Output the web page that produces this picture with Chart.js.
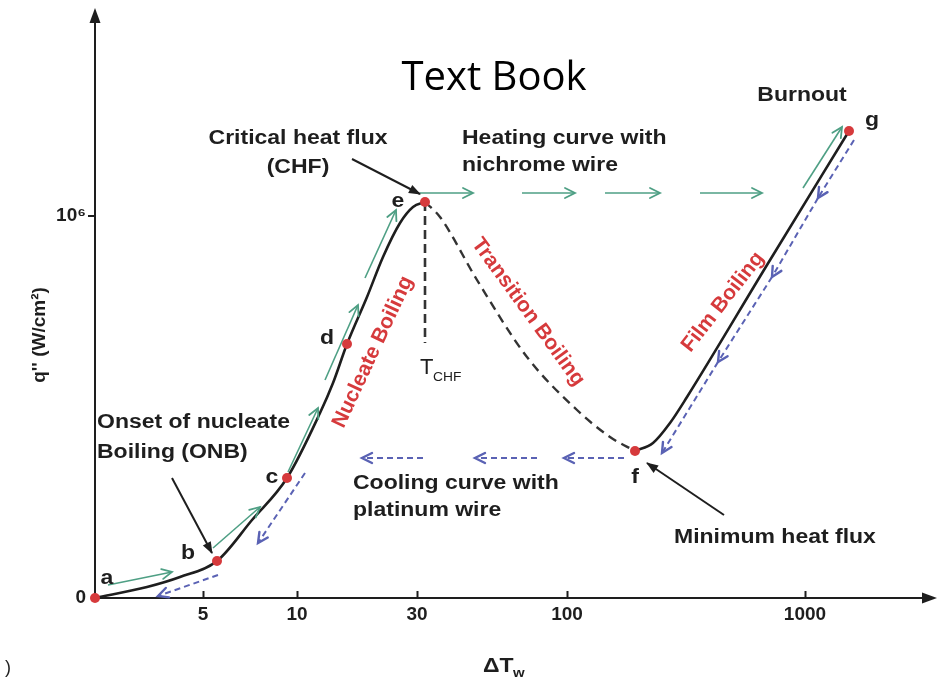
<!DOCTYPE html>
<html>
<head>
<meta charset="utf-8">
<script src="https://cdn.jsdelivr.net/npm/chart.js@4.4.1/dist/chart.umd.min.js"></script>
<style>
  html, body { margin: 0; padding: 0; background: #fff; }
  canvas { display: block; }
</style>
</head>
<body>
<canvas id="grafico" width="944" height="678"></canvas>
<script>
// eixos (posicoes esquematicas, nao e uma escala log real)
const xTickPos = [108, 202, 322, 472, 710];
const xTickLabels = ['5', '10', '30', '100', '1000'];
const yTickPos = [0, 382];
const yTickLabels = ['0', '10\u2076'];

// curva de ebulicao
const nucleateX = [0, 52, 85, 122, 157, 192, 225, 238, 252, 272, 288, 305, 318, 330];
const nucleateY = [0, 11, 21, 37, 78, 120, 185, 215, 254, 301, 341, 375, 391, 396];
const transitionX = [330, 345, 382, 432, 482, 515, 540];
const transitionY = [396, 381, 318, 241, 188, 161, 147];
const filmX = [540, 558, 575, 592, 672, 754];
const filmY = [147, 155, 175, 201, 333, 467];
const chfLineX = [330, 330];
const chfLineY = [396, 255];

// pontos a..g
const stateLabels = ['a', 'b', 'c', 'd', 'e', 'f', 'g'];
const stateX = [0, 122, 192, 252, 330, 540, 754];
const stateY = [0, 37, 120, 254, 396, 147, 467];

// setas [x1, y1, x2, y2]
const heatingArrows = [
    [13, 13, 77, 26], [118, 50, 165, 91], [193, 126, 223, 190], [230, 218, 263, 293], [270, 320, 301, 388],
    [325, 405, 378, 405], [427, 405, 480, 405], [510, 405, 565, 405], [605, 405, 667, 405],
    [708, 410, 747, 471]
];
const coolingArrows = [
    [759, 458, 723, 400], [723, 400, 677, 321], [677, 321, 623, 236], [623, 236, 567, 145],
    [529, 140, 469, 140], [442, 140, 380, 140], [328, 140, 267, 140],
    [210, 125, 163, 55], [123, 23, 63, 2]
];
const pointerArrows = [
    [257, 439, 325, 404], [77, 120, 117, 45], [629, 83, 552, 135]
];

const INK = '#1e1e1e';
const RED = '#d63a3c';
const GREEN = '#4e9f84';
const BLUE = '#5a62b4';
const SX = 1.15;
const FONTE = '"Liberation Sans", Arial, sans-serif';

function juntar(xs, ys){
    return xs.map((v, i) => ({x: v, y: ys[i]}));
}

function setas(lista, cor, largura, tracejado, ponta){
    return lista.map(s => ({
        data: [{x: s[0], y: s[1]}, {x: s[2], y: s[3]}],
        borderColor: cor,
        borderWidth: largura,
        borderDash: tracejado,
        pointRadius: 0,
        tension: 0,
        clip: false,
        head: ponta
    }));
}

function desenharPonta(ctx, p1, p2, tipo, cor){
    const ang = Math.atan2(p2.y - p1.y, p2.x - p1.x);
    ctx.save();
    ctx.translate(p2.x, p2.y);
    ctx.rotate(ang);
    ctx.setLineDash([]);
    if(tipo == 'cheia'){
        ctx.fillStyle = cor;
        ctx.beginPath();
        ctx.moveTo(1, 0);
        ctx.lineTo(-11, -4.5);
        ctx.lineTo(-11, 4.5);
        ctx.closePath();
        ctx.fill();
    }
    else{
        ctx.strokeStyle = cor;
        ctx.lineWidth = tipo == 'azul' ? 2.4 : 1.8;
        ctx.lineCap = 'round';
        ctx.beginPath();
        ctx.moveTo(-10, -5);
        ctx.lineTo(0, 0);
        ctx.lineTo(-10, 5);
        ctx.stroke();
    }
    ctx.restore();
}

function texto(ctx, str, x, y, opc){
    opc = opc || {};
    ctx.save();
    ctx.translate(x, y);
    if(opc.rot) ctx.rotate(opc.rot * Math.PI / 180);
    ctx.scale(opc.sx != undefined ? opc.sx : SX, 1);
    ctx.font = opc.font || ('bold 20px ' + FONTE);
    ctx.fillStyle = opc.cor || INK;
    ctx.textAlign = opc.align || 'center';
    ctx.textBaseline = opc.base || 'middle';
    ctx.fillText(str, 0, 0);
    ctx.restore();
}

const anotacoes = {
    id: 'anotacoes',
    afterDatasetsDraw(chart){
        const ctx = chart.ctx;
        const ca = chart.chartArea;
        const xs = chart.scales.x;

        // pontas das setas
        chart.data.datasets.forEach((ds, i) => {
            if(!ds.head) return;
            const pts = chart.getDatasetMeta(i).data;
            desenharPonta(ctx, pts[pts.length - 2], pts[pts.length - 1], ds.head, ds.borderColor);
        });

        // marcas do eixo x (para dentro)
        ctx.save();
        ctx.strokeStyle = INK;
        ctx.lineWidth = 2;
        xTickPos.forEach(v => {
            const px = Math.round(xs.getPixelForValue(v)) + 0.5;
            ctx.beginPath();
            ctx.moveTo(px, ca.bottom);
            ctx.lineTo(px, ca.bottom - 7);
            ctx.stroke();
        });

        // setas dos eixos
        ctx.fillStyle = INK;
        ctx.beginPath();
        ctx.moveTo(ca.left, ca.top - 12);
        ctx.lineTo(ca.left - 5.5, ca.top + 3);
        ctx.lineTo(ca.left + 5.5, ca.top + 3);
        ctx.closePath();
        ctx.fill();
        ctx.beginPath();
        ctx.moveTo(ca.right + 12, ca.bottom);
        ctx.lineTo(ca.right - 3, ca.bottom - 5.5);
        ctx.lineTo(ca.right - 3, ca.bottom + 5.5);
        ctx.closePath();
        ctx.fill();
        ctx.restore();

        // letras dos pontos
        const desloc = [[107, 578], [188, 553], [272, 477], [327, 338], [398, 201], [635, 477], [872, 120]];
        stateLabels.forEach((l, i) => texto(ctx, l, desloc[i][0], desloc[i][1]));

        texto(ctx, 'Text Book', 494, 90, {font: '40px "Open Sans", sans-serif', sx: 1, base: 'alphabetic', cor: '#000'});
        texto(ctx, 'Burnout', 802, 95);
        texto(ctx, 'Critical heat flux', 298, 138);
        texto(ctx, '(CHF)', 298, 167);
        texto(ctx, 'Heating curve with', 462, 138, {align: 'left'});
        texto(ctx, 'nichrome wire', 462, 165, {align: 'left'});
        texto(ctx, 'Onset of nucleate', 97, 422, {align: 'left'});
        texto(ctx, 'Boiling (ONB)', 97, 452, {align: 'left'});
        texto(ctx, 'Cooling curve with', 353, 483, {align: 'left'});
        texto(ctx, 'platinum wire', 353, 510, {align: 'left'});
        texto(ctx, 'Minimum heat flux', 674, 537, {align: 'left'});

        texto(ctx, 'T', 420, 374, {align: 'left', base: 'alphabetic', font: '22px ' + FONTE, sx: 1});
        texto(ctx, 'CHF', 433, 381, {align: 'left', base: 'alphabetic', font: '12px ' + FONTE});

        texto(ctx, 'Nucleate Boiling', 373, 352, {rot: -65, sx: 1, cor: RED, font: 'bold 21px ' + FONTE});
        texto(ctx, 'Transition Boiling', 528, 312, {rot: 54, sx: 1, cor: RED, font: 'bold 21px ' + FONTE});
        texto(ctx, 'Film Boiling', 723, 302, {rot: -52, sx: 1, cor: RED, font: 'bold 21px ' + FONTE});

        texto(ctx, '\u0394T', 483, 672, {align: 'left', base: 'alphabetic'});
        texto(ctx, 'w', 513, 677, {align: 'left', base: 'alphabetic', font: 'bold 13px ' + FONTE});
        texto(ctx, "q'' (W/cm\u00b2)", 40, 335, {rot: -90, sx: 1, font: 'bold 19px ' + FONTE});
        texto(ctx, ')', 8, 668, {sx: 1, font: '18px ' + FONTE});
    }
};

const datasets = [
    {
        data: juntar(stateX, stateY),
        showLine: false,
        pointRadius: 5,
        pointBackgroundColor: RED,
        pointBorderWidth: 0,
        clip: false
    },
    {
        data: juntar(nucleateX, nucleateY),
        borderColor: INK,
        borderWidth: 2.6,
        pointRadius: 0,
        cubicInterpolationMode: 'monotone',
        clip: false
    },
    {
        data: juntar(transitionX, transitionY),
        borderColor: '#333',
        borderWidth: 2.4,
        borderDash: [9, 6],
        pointRadius: 0,
        cubicInterpolationMode: 'monotone',
        clip: false
    },
    {
        data: juntar(filmX, filmY),
        borderColor: INK,
        borderWidth: 2.6,
        pointRadius: 0,
        cubicInterpolationMode: 'monotone',
        clip: false
    },
    {
        data: juntar(chfLineX, chfLineY),
        borderColor: '#333',
        borderWidth: 2.6,
        borderDash: [9, 5],
        pointRadius: 0,
        clip: false
    }
].concat(
    setas(pointerArrows, INK, 2, [], 'cheia'),
    setas(heatingArrows, GREEN, 1.6, [], 'verde'),
    setas(coolingArrows, BLUE, 2, [6, 4], 'azul')
);

const fonteTick = {family: FONTE, size: 19, weight: 'bold'};

new Chart(document.getElementById('grafico'), {
    type: 'line',
    data: { datasets: datasets },
    options: {
        responsive: false,
        animation: false,
        devicePixelRatio: 1,
        layout: { padding: {left: 0, right: 19, top: 20, bottom: 0} },
        plugins: {
            legend: { display: false },
            tooltip: { enabled: false }
        },
        scales: {
            x: {
                type: 'linear',
                min: 0,
                max: 830,
                afterBuildTicks: (s) => { s.ticks = xTickPos.map(v => ({value: v})); },
                afterFit: (s) => { s.height = 80; },
                ticks: {
                    callback: (v) => xTickLabels[xTickPos.indexOf(v)],
                    autoSkip: false,
                    maxRotation: 0,
                    padding: 5,
                    color: INK,
                    font: fonteTick
                },
                grid: { display: false, drawTicks: false },
                border: { display: true, color: INK, width: 2 }
            },
            y: {
                type: 'linear',
                min: 0,
                max: 578,
                afterBuildTicks: (s) => { s.ticks = yTickPos.map(v => ({value: v})); },
                afterFit: (s) => { s.width = 95; },
                ticks: {
                    callback: (v) => yTickLabels[yTickPos.indexOf(v)],
                    autoSkip: false,
                    padding: 2,
                    color: INK,
                    font: fonteTick
                },
                grid: {
                    display: true,
                    drawOnChartArea: false,
                    drawTicks: true,
                    tickLength: 7,
                    lineWidth: 2,
                    color: (c) => (c.tick && c.tick.value == 0) ? 'rgba(0,0,0,0)' : INK
                },
                border: { display: true, color: INK, width: 2 }
            }
        }
    },
    plugins: [anotacoes]
});
</script>
</body>
</html>
